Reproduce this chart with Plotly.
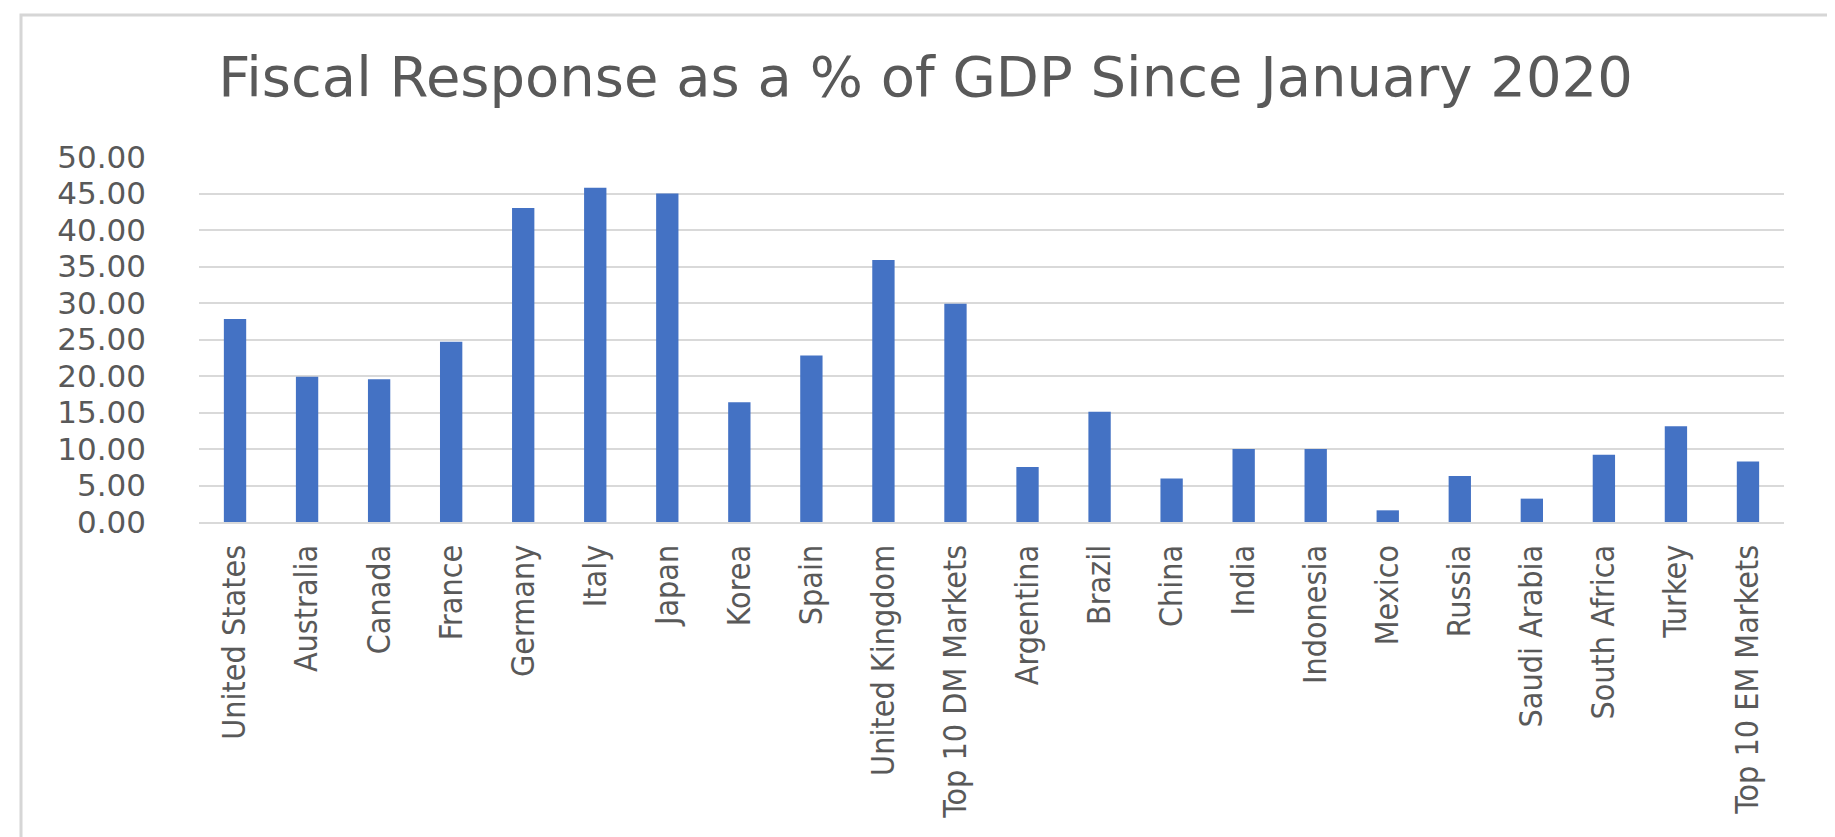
import plotly.graph_objects as go

categories = ["United States", "Australia", "Canada", "France", "Germany", "Italy",
              "Japan", "Korea", "Spain", "United Kingdom", "Top 10 DM Markets",
              "Argentina", "Brazil", "China", "India", "Indonesia", "Mexico",
              "Russia", "Saudi Arabia", "South Africa", "Turkey", "Top 10 EM Markets"]
values = [27.8, 19.9, 19.55, 24.7, 43.0, 45.8, 45.0, 16.4, 22.8, 35.9, 29.9,
          7.55, 15.1, 5.95, 10.0, 10.0, 1.6, 6.3, 3.2, 9.2, 13.1, 8.3]
y_ticks = [0, 5, 10, 15, 20, 25, 30, 35, 40, 45, 50]
y_tick_labels = ["%.2f" % v for v in y_ticks]
title_text = "Fiscal Response as a % of GDP Since January 2020"

W, H = 1835, 837
ML, MR, MT, MB = 191, 59, 149, 323
pw = W - ML - MR
ph = H - MT - MB

fig = go.Figure(go.Bar(x=categories, y=values, marker_color="#4472C4",
                       marker_line_width=0))

def px_x(p):
    return (p - ML) / pw

def px_y(p):
    return (H - MB - p) / ph

fig.update_layout(
    width=W, height=H,
    margin=dict(l=ML, r=MR, t=MT, b=MB, autoexpand=False),
    paper_bgcolor="white", plot_bgcolor="white",
    bargap=0.69,
    showlegend=False,
    title=dict(text=title_text, x=0.5, xanchor="center", y=1 - 68 / H,
               yanchor="middle", yref="container",
               font=dict(family="DejaVu Sans", size=56, color="#595959")),
    xaxis=dict(type="category", tickangle=-90, showgrid=False,
               showline=True, linecolor="#d9d9d9", linewidth=2,
               ticks="", ticklabelstandoff=8,
               tickfont=dict(family="Liberation Sans Narrow, DejaVu Sans Condensed, Liberation Sans",
                             size=32, color="#595959")),
    yaxis=dict(range=[0, 50], tickvals=y_ticks, ticktext=y_tick_labels,
               showgrid=True, gridcolor="#d9d9d9", gridwidth=2,
               zeroline=False, showline=False, ticks="",
               ticklabelstandoff=52,
               tickfont=dict(family="DejaVu Sans", size=31, color="#595959")),
    shapes=[dict(type="rect", xref="paper", yref="paper",
                 x0=px_x(13), x1=px_x(1831), y0=px_y(860), y1=px_y(7),
                 line=dict(color="#d6d6d6", width=3), fillcolor="rgba(0,0,0,0)",
                 layer="below")],
)

fig.write_html("out.html")
